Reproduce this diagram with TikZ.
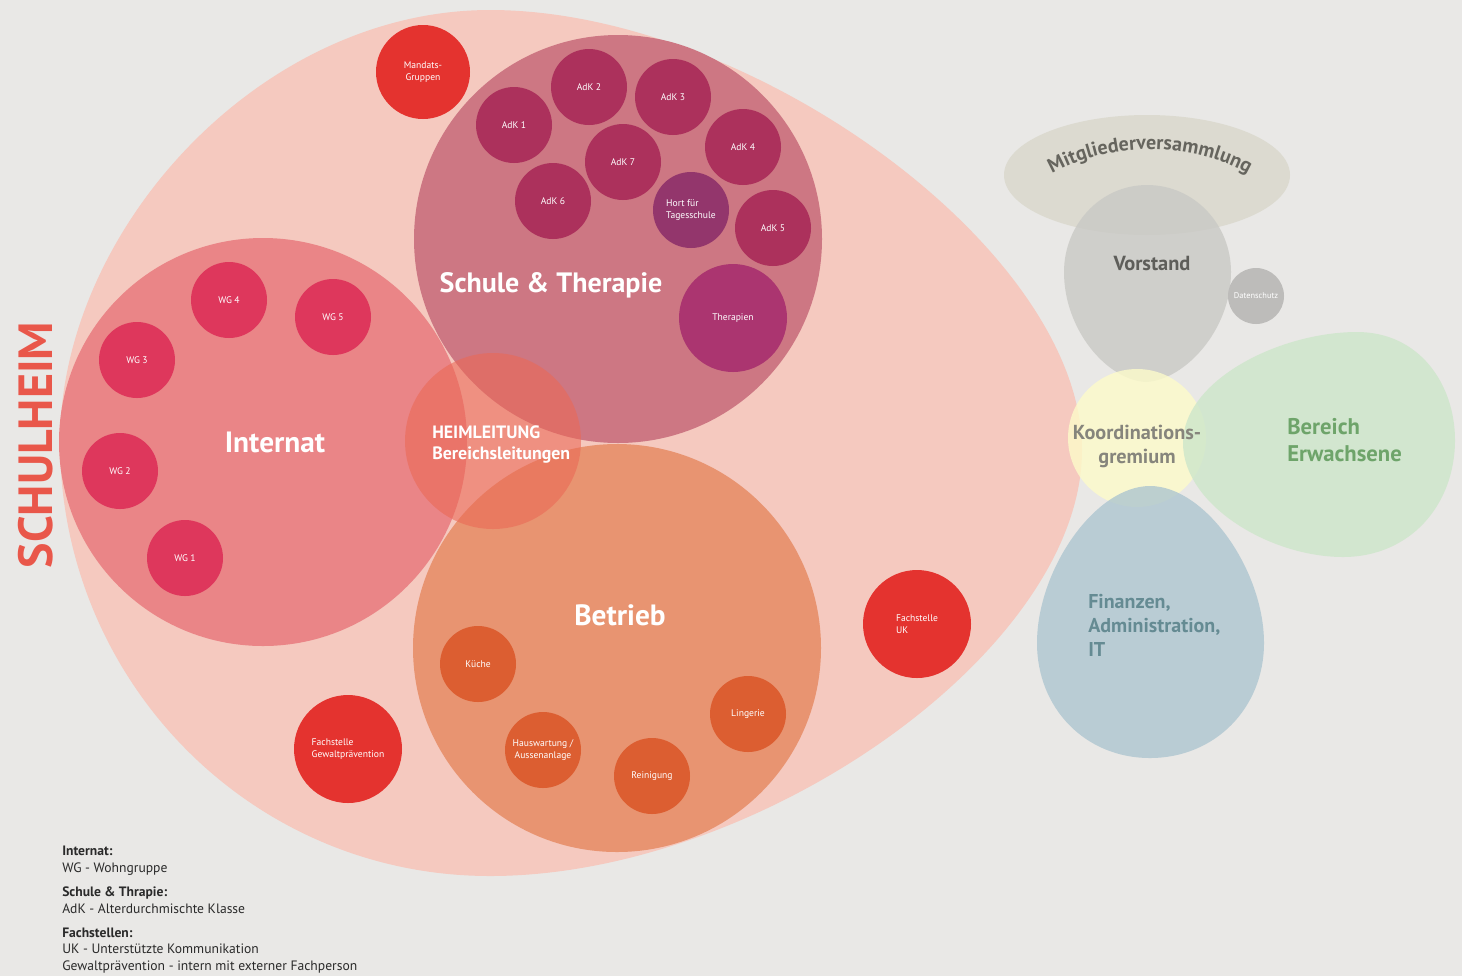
\documentclass[tikz,border=0pt]{standalone}
\usepackage{fontspec}
\setmainfont{PT Sans}
\usetikzlibrary{decorations.text,shapes.geometric}
\definecolor{bgc}{HTML}{E9E8E6}
\definecolor{eggc}{HTML}{F5C9BF}
\definecolor{internatc}{HTML}{EA8587}
\definecolor{schulec}{HTML}{CD7783}
\definecolor{betriebc}{HTML}{E89471}
\definecolor{heimc}{RGB}{235,104,85}
\definecolor{redc}{HTML}{E4332F}
\definecolor{adkc}{HTML}{AC315C}
\definecolor{hortc}{HTML}{93366C}
\definecolor{therc}{HTML}{AB3570}
\definecolor{wgc}{HTML}{DE375C}
\definecolor{opc}{HTML}{DC5E31}
\definecolor{shc}{HTML}{E9574A}
\definecolor{mvc}{RGB}{217,215,203}
\definecolor{vsc}{RGB}{201,201,197}
\definecolor{koc}{RGB}{253,251,202}
\definecolor{bec}{RGB}{205,230,202}
\definecolor{fic}{RGB}{173,197,208}
\definecolor{dsc}{RGB}{189,188,186}
\definecolor{mvt}{HTML}{66655E}
\definecolor{vst}{HTML}{5E5E5A}
\definecolor{kot}{HTML}{86857C}
\definecolor{bet}{HTML}{6EA46A}
\definecolor{fit}{HTML}{658B93}
\definecolor{legt}{HTML}{2A2A2A}
\newcommand\mvfont{\bfseries\fontsize{15}{15}\selectfont}
\tikzset{
  sub/.style={circle, inner sep=0pt, text=white, font=\fontsize{7.2}{8.8}\selectfont, align=center},
  subc/.style={sub, minimum size=57pt},
  bigc/.style={circle, inner sep=0pt, minimum size=306pt},
  biglabel/.style={text=white, inner sep=0pt, font=\bfseries\fontsize{22}{26}\selectfont},
  soft/.style={fill opacity=.8},
  legline/.style={anchor=base west, inner sep=0pt, text=legt, font=\fontsize{10.2}{12}\selectfont},
  leghead/.style={legline, font=\bfseries\fontsize{10.2}{12}\selectfont},
}
\begin{document}
\begin{tikzpicture}[x=0.75pt,y=-0.75pt]
\fill[bgc] (0,0) rectangle (1462,976);
\useasboundingbox (0,0) rectangle (1462,976);

% SCHULHEIM egg
\fill[eggc] (60,442) .. controls (60,230) and (260,10) .. (490,10)
  .. controls (750,10) and (1082,250) .. (1082,450)
  .. controls (1082,650) and (760,876) .. (490,876)
  .. controls (250,876) and (60,680) .. (60,442) -- cycle;

% big circles
\node[bigc, fill=internatc] (internat) at (263,442) {};
\node[bigc, fill=schulec] (schule) at (618,239) {};
\node[bigc, fill=betriebc] (betrieb) at (617,648) {};
\node[circle, inner sep=0pt, minimum size=132pt, fill=heimc, fill opacity=.58] (heim) at (493,441) {};

% labels of big circles
\node[biglabel] (internatl) at (275,442) {Internat};
\node[biglabel, font=\bfseries\fontsize{21}{25}\selectfont] (schulel) at (551,285) {Schule \& Therapie};
\node[biglabel] (betriebl) at (620,615) {Betrieb};
\node[anchor=west, align=left, text=white, inner sep=0pt, font=\bfseries\fontsize{13.4}{15.75}\selectfont] (heiml) at (432,445) {HEIMLEITUNG\\Bereichsleitungen};

% Schule & Therapie
\node[sub, fill=redc, minimum size=70.5pt] (mandats) at (423,72) {Mandats-\\Gruppen};
\node[subc, fill=adkc] (adk2) at (589,87) {AdK 2};
\node[subc, fill=adkc] (adk3) at (673,97) {AdK 3};
\node[subc, fill=adkc] (adk1) at (514,125) {AdK 1};
\node[subc, fill=adkc] (adk4) at (743,147) {AdK 4};
\node[subc, fill=adkc] (adk7) at (623,162) {AdK 7};
\node[subc, fill=adkc] (adk6) at (553,201) {AdK 6};
\node[subc, fill=hortc, align=left] (hort) at (691,210) {Hort für\\Tagesschule};
\node[subc, fill=adkc] (adk5) at (773,228) {AdK 5};
\node[sub, fill=therc, minimum size=81pt] (therapien) at (733,318) {Therapien};

% Internat
\node[subc, fill=wgc] (wg4) at (229,300) {WG 4};
\node[subc, fill=wgc] (wg5) at (333,317) {WG 5};
\node[subc, fill=wgc] (wg3) at (137,360) {WG 3};
\node[subc, fill=wgc] (wg2) at (120,471) {WG 2};
\node[subc, fill=wgc] (wg1) at (185,558) {WG 1};

% Betrieb
\node[subc, fill=opc] (kueche) at (478,664) {Küche};
\node[subc, fill=opc] (haus) at (543,750) {Hauswartung /\\Aussenanlage};
\node[subc, fill=opc] (reinigung) at (652,776) {Reinigung};
\node[subc, fill=opc] (lingerie) at (748,714) {Lingerie};

% Fachstellen
\node[sub, fill=redc, minimum size=81pt, align=left] (gewalt) at (348,749) {Fachstelle\\Gewaltprävention};
\node[sub, fill=redc, minimum size=81pt, align=left] (uk) at (917,624) {Fachstelle\\UK};

% SCHULHEIM title
\node[rotate=90, text=shc, inner sep=0pt, font=\bfseries\fontsize{36}{36}\selectfont] (schulheim) at (36,445) {SCHULHEIM};

% right group
\node[ellipse, inner sep=0pt, minimum width=214.5pt, minimum height=90pt, fill=mvc, soft] (mv) at (1147,175) {};
\fill[vsc, soft] (1147,185) .. controls (1195,185) and (1231,225) .. (1231,272)
  .. controls (1231,330) and (1185,380) .. (1146,382)
  .. controls (1107,380) and (1064,330) .. (1064,272)
  .. controls (1064,225) and (1100,185) .. (1147,185);
\node[circle, inner sep=0pt, minimum size=42pt, fill=dsc, text=white, font=\fontsize{6.3}{7}\selectfont] (daten) at (1256,296) {Datenschutz};
\node[circle, inner sep=0pt, minimum size=103.5pt, fill=koc, soft] (koord) at (1137,438) {};
\fill[bec, soft] (1183,443) .. controls (1183,380) and (1280,332) .. (1357,332)
  .. controls (1420,332) and (1455,385) .. (1455,440)
  .. controls (1455,505) and (1410,557) .. (1343,557)
  .. controls (1270,557) and (1183,505) .. (1183,443);
\fill[fic, soft] (1150,486) .. controls (1205,486) and (1264,570) .. (1264,643)
  .. controls (1264,708) and (1215,758) .. (1150,758)
  .. controls (1085,758) and (1037,708) .. (1037,643)
  .. controls (1037,570) and (1095,486) .. (1150,486);

\path[decorate, decoration={text along path, text={|\mvfont|Mitgliederversammlung}, text align=center, text color=mvt}]
  (1036,184) .. controls (1100,138) and (1200,138) .. (1264,184);
\node[text=vst, inner sep=0pt, font=\bfseries\fontsize{15.3}{18}\selectfont] (vorstand) at (1152,263) {Vorstand};
\node[text=kot, inner sep=0pt, align=center, font=\bfseries\fontsize{15.2}{18}\selectfont] (koordl) at (1137,446) {Koordinations-\\gremium};
\node[text=bet, inner sep=0pt, align=left, anchor=west, font=\bfseries\fontsize{17}{20.25}\selectfont] (bereich) at (1287,440) {Bereich\\Erwachsene};
\node[text=fit, inner sep=0pt, align=left, anchor=west, font=\bfseries\fontsize{15}{18}\selectfont] (finanzen) at (1088,625) {Finanzen,\\Administration,\\IT};

% legend
\node[leghead] (l1) at (62,855.5) {Internat:};
\node[legline] (l2) at (62,872.5) {WG - Wohngruppe};
\node[leghead] (l3) at (62,896.5) {Schule \& Thrapie:};
\node[legline] (l4) at (62,913.5) {AdK - Alterdurchmischte Klasse};
\node[leghead] (l5) at (62,937.5) {Fachstellen:};
\node[legline] (l6) at (62,953.5) {UK - Unterstützte Kommunikation};
\node[legline] (l7) at (62,970.5) {Gewaltprävention - intern mit externer Fachperson};
\end{tikzpicture}
\end{document}
